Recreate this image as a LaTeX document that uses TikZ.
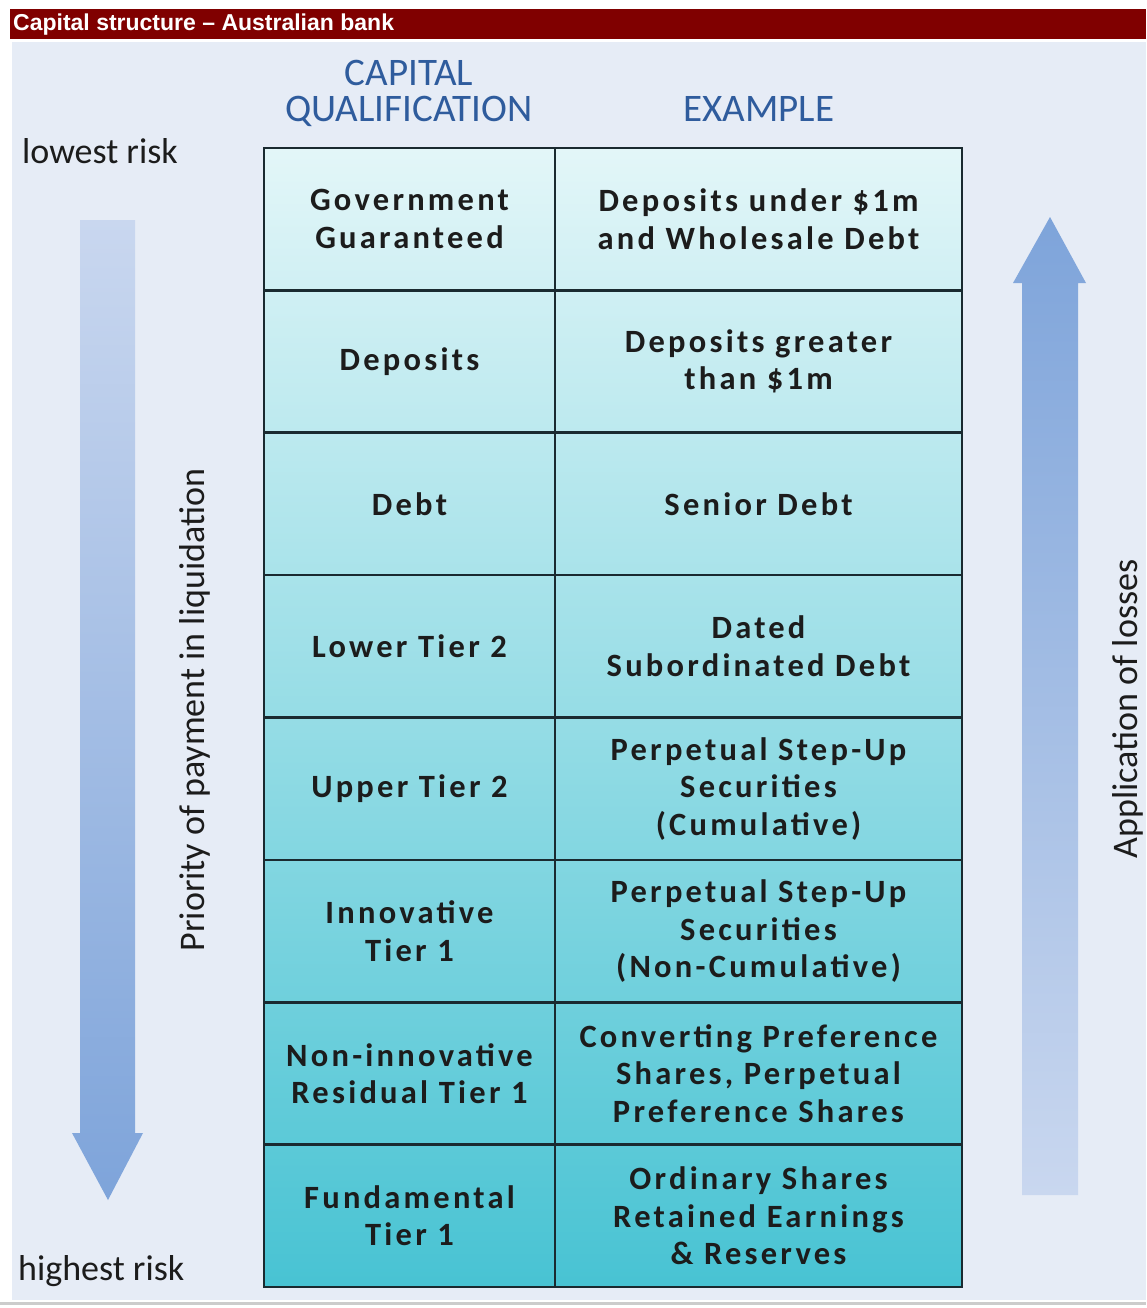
\documentclass[tikz,border=0pt]{standalone}
\usepackage{fontspec}
\setmainfont{Carlito}
\newfontfamily\titlefont{Liberation Sans}
\newfontfamily\cellfont[LetterSpace=10]{Carlito}
\definecolor{titlered}{HTML}{800000}
\definecolor{bgblue}{HTML}{E6ECF6}
\definecolor{headblue}{HTML}{2F5C9D}
\definecolor{tabtop}{HTML}{E3F6F8}
\definecolor{tabbot}{HTML}{48C3D3}
\definecolor{arrlight}{HTML}{C9D7EF}
\definecolor{arrdark}{HTML}{7EA4DA}
\definecolor{inkc}{HTML}{1C1C1C}
\definecolor{gridc}{HTML}{1A2A30}
\begin{document}
\begin{tikzpicture}[x=1pt,y=-1pt,
  titletext/.style={text=white,font=\titlefont\bfseries\fontsize{23}{24}\selectfont,inner sep=0pt},
  headtext/.style={text=headblue,font=\fontsize{39}{36}\selectfont,align=center,inner sep=0pt},
  sidetext/.style={text=inkc,font=\fontsize{36}{38}\selectfont,inner sep=0pt},
  cellbox/.style={draw=gridc,line width=2.5pt,minimum height=142.4pt,inner sep=0pt,
    text=inkc,align=center,font=\cellfont\bfseries\fontsize{32.5}{37.5}\selectfont},
  leftcell/.style={cellbox,minimum width=291pt},
  rightcell/.style={cellbox,minimum width=407pt}
]
\useasboundingbox (0,0) rectangle (1146,1308);
\fill[white] (0,0) rectangle (1146,1308);
% title bar
\fill[titlered] (10,9) rectangle (1146,39);
\node[titletext,anchor=base west] (title) at (13,31) {Capital structure – Australian bank};
% background panel
\fill[bgblue] (12,42) rectangle (1146,1300);
\fill[gray!40] (0,1302) rectangle (1146,1305);
% headers
\node[headtext,anchor=base] (hq) at (409,122) {CAPITAL\\QUALIFICATION};
\node[headtext,anchor=base] (he) at (759,122) {EXAMPLE};
% side labels
\node[sidetext,anchor=base west] (low) at (22,164) {lowest risk};
\node[sidetext,anchor=base west] (high) at (18,1280) {highest risk};
\node[sidetext,rotate=90] (prio) at (195,710) {Priority of payment in liquidation};
\node[sidetext,rotate=90] (appl) at (1128,709) {Application of losses};
% arrows
\shade[top color=arrlight,bottom color=arrdark]
  (80,220) -- (135,220) -- (135,1133) -- (143,1133) -- (108,1200) -- (72,1133) -- (80,1133) -- cycle;
\shade[top color=arrdark,bottom color=arrlight]
  (1022,1195) -- (1078,1195) -- (1078,283) -- (1086,283) -- (1050,217) -- (1013,283) -- (1022,283) -- cycle;
% table background
\shade[top color=tabtop,bottom color=tabbot] (264,148) rectangle (962,1287);
% cells
\foreach \i/\l/\r in {
  1/{Government\\Guaranteed}/{Deposits under \$1m\\and Wholesale Debt},
  2/{Deposits}/{Deposits greater\\than \$1m},
  3/{Debt}/{Senior Debt},
  4/{Lower Tier 2}/{Dated\\Subordinated Debt},
  5/{Upper Tier 2}/{Perpetual Step-Up\\Securities\\(Cumulative)},
  6/{Innovative\\Tier 1}/{Perpetual Step-Up\\Securities\\(Non-Cumulative)},
  7/{Non-innovative\\Residual Tier 1}/{Converting Preference\\Shares, Perpetual\\Preference Shares},
  8/{Fundamental\\Tier 1}/{Ordinary Shares\\Retained Earnings\\\& Reserves}}{
  \node[leftcell] (L\i) at (409.5,{148+142.375*(\i-0.5)}) {\l};
  \node[rightcell] (R\i) at (758.5,{148+142.375*(\i-0.5)}) {\r};
}
\end{tikzpicture}
\end{document}
